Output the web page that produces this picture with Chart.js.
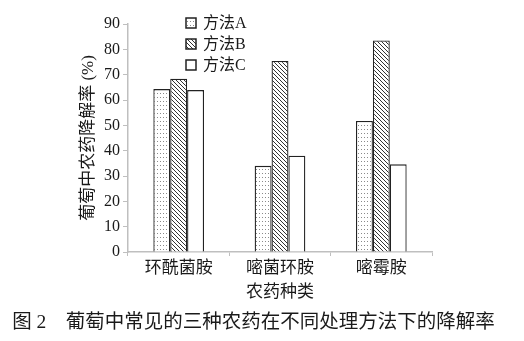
<!DOCTYPE html>
<html>
<head>
<meta charset="utf-8">
<script src="https://cdn.jsdelivr.net/npm/chart.js@4/dist/chart.umd.min.js"></script>
<style>
  html, body { margin: 0; padding: 0; background: #fff; }
  #wrap { position: relative; width: 524px; height: 341px; }
  #caption {
    position: absolute; left: 0; top: 310px; width: 507px;
    text-align: center; white-space: nowrap;
    font-family: "Liberation Serif", "Noto Sans CJK SC", serif;
    font-size: 19.5px; line-height: 24px; color: #1a1a1a;
  }
</style>
</head>
<body>
<div id="wrap">
  <canvas id="chart"></canvas>
  <div id="caption">图 2　葡萄中常见的三种农药在不同处理方法下的降解率</div>
</div>
<script>
// Data
const categories = ['环酰菌胺', '嘧菌环胺', '嘧霉胺'];
const methodA = [64.3, 34.0, 51.7];
const methodB = [68.4, 75.4, 83.5];
const methodC = [63.9, 38.0, 34.6];
const seriesNames = ['方法A', '方法B', '方法C'];
const yTicks = [0, 10, 20, 30, 40, 50, 60, 70, 80, 90];

const FONT = '"Liberation Serif", "Times New Roman", "Noto Sans CJK SC", serif';
const TEXT = '#1a1a1a';

// Fill patterns: dots for A, diagonal hatch for B
function dotPattern() {
    const c = document.createElement('canvas');
    c.width = 3; c.height = 4;
    const g = c.getContext('2d');
    g.fillStyle = '#fff';
    g.fillRect(0, 0, 3, 4);
    g.fillStyle = '#8a8a8a';
    g.fillRect(1, 1, 1, 1);
    return g.createPattern(c, 'repeat');
}

function hatchPattern() {
    const c = document.createElement('canvas');
    c.width = 4; c.height = 4;
    const g = c.getContext('2d');
    g.fillStyle = '#fff';
    g.fillRect(0, 0, 4, 4);
    g.strokeStyle = '#333';
    g.lineWidth = 1;
    g.beginPath();
    g.moveTo(-1, -1); g.lineTo(5, 5);
    g.moveTo(-1, 3); g.lineTo(1, 5);
    g.moveTo(3, -1); g.lineTo(5, 1);
    g.stroke();
    return g.createPattern(c, 'repeat');
}

const fills = [dotPattern(), hatchPattern(), '#ffffff'];

// Vertical legend drawn inside the plot area, top left
const insideLegend = {
    id: 'insideLegend',
    afterDraw(chart) {
        const ctx = chart.ctx;
        const x = 186;
        const ys = [23, 44, 65];
        ctx.save();
        chart.data.datasets.forEach((ds, i) => {
            const y = ys[i];
            ctx.fillStyle = ds.backgroundColor;
            ctx.fillRect(x, y - 5, 10, 10);
            ctx.strokeStyle = '#222';
            ctx.lineWidth = 1.5;
            ctx.strokeRect(x, y - 5, 10, 10);
            ctx.fillStyle = TEXT;
            ctx.font = '16px ' + FONT;
            ctx.textBaseline = 'middle';
            ctx.textAlign = 'left';
            ctx.fillText(ds.label, x + 17, y + 1);
        });
        ctx.restore();
    }
};

new Chart(document.getElementById('chart'), {
    type: 'bar',
    data: {
        labels: categories,
        datasets: [
            { label: seriesNames[0], data: methodA, backgroundColor: fills[0] },
            { label: seriesNames[1], data: methodB, backgroundColor: fills[1] },
            { label: seriesNames[2], data: methodC, backgroundColor: fills[2] }
        ].map(ds => Object.assign(ds, {
            borderColor: '#222',
            borderWidth: 1.3,
            barPercentage: 1.0,
            categoryPercentage: 0.5
        }))
    },
    options: {
        responsive: true,
        maintainAspectRatio: false,
        animation: false,
        layout: { padding: { top: 24, right: 92, left: 78, bottom: 38 } },
        plugins: {
            legend: { display: false },
            tooltip: { enabled: false }
        },
        scales: {
            x: {
                grid: { display: true, drawOnChartArea: false, offset: true, color: '#bfbfbf', tickLength: 4 },
                border: { display: true, color: '#bfbfbf', width: 1.5 },
                ticks: { color: TEXT, font: { family: FONT, size: 17 }, padding: 2 },
                title: {
                    display: true,
                    text: '农药种类',
                    color: TEXT,
                    font: { family: FONT, size: 17 },
                    padding: { top: 2, bottom: 0 }
                },
                afterFit: s => { s.height = 51; }
            },
            y: {
                min: 0,
                max: 90,
                afterBuildTicks: s => { s.ticks = yTicks.map(v => ({ value: v })); },
                grid: { display: true, drawOnChartArea: false, color: '#bfbfbf', tickLength: 5 },
                border: { display: true, color: '#bfbfbf', width: 1.5 },
                ticks: { color: TEXT, font: { family: FONT, size: 16 }, padding: 3 },
                title: {
                    display: true,
                    text: '葡萄中农药降解率 (%)',
                    color: TEXT,
                    font: { family: FONT, size: 17 },
                    padding: { top: 0, bottom: 4 }
                },
                afterFit: s => { s.width = 50; }
            }
        }
    },
    plugins: [insideLegend]
});
</script>
</body>
</html>
